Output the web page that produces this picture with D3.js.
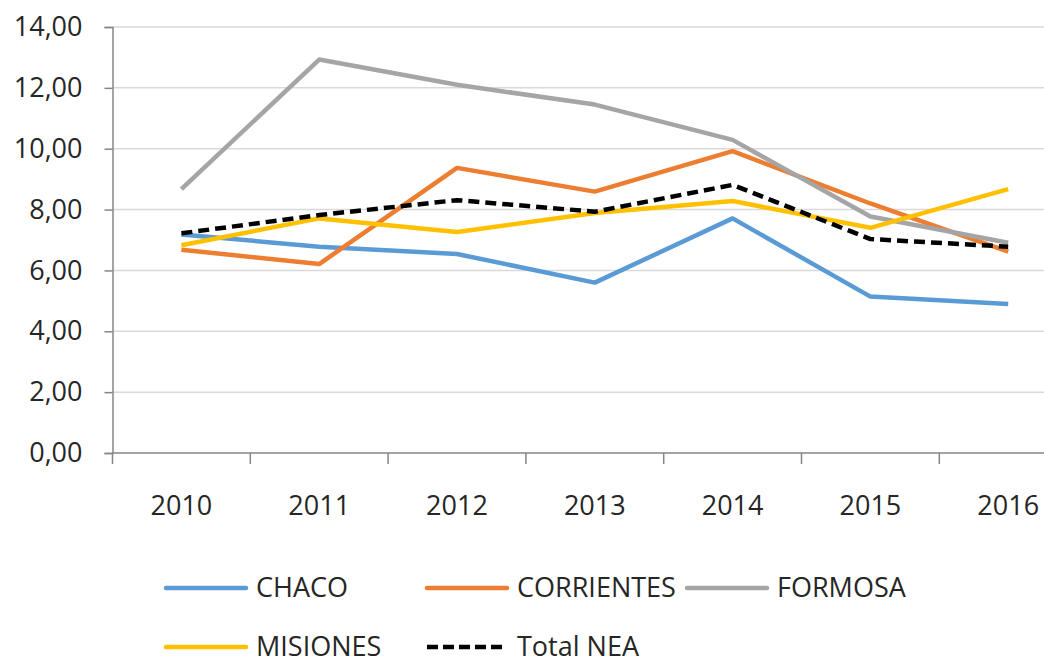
<!DOCTYPE html>
<html>
<head>
<meta charset="utf-8">
<script src="https://cdn.jsdelivr.net/npm/d3@7"></script>
<style>
  body { margin: 0; background: #fff; }
  text { font-family: "Open Sans", "Noto Sans", sans-serif; fill: #262626; }
</style>
</head>
<body>
<div id="chart"></div>
<script>
var years = ["2010", "2011", "2012", "2013", "2014", "2015", "2016"];
var chaco = [7.18, 6.78, 6.54, 5.60, 7.71, 5.14, 4.90];
var corrientes = [6.68, 6.21, 9.37, 8.59, 9.92, 8.20, 6.62];
var formosa = [8.67, 12.93, 12.10, 11.45, 10.29, 7.77, 6.91];
var misiones = [6.83, 7.71, 7.26, 7.89, 8.28, 7.40, 8.67];
var totalNea = [7.22, 7.82, 8.31, 7.93, 8.81, 7.03, 6.78];
var yTicks = [0, 2, 4, 6, 8, 10, 12, 14];

var series = [
  { name: "CHACO", values: chaco, color: "#5B9BD5", dash: null },
  { name: "CORRIENTES", values: corrientes, color: "#ED7D31", dash: null },
  { name: "FORMOSA", values: formosa, color: "#A5A5A5", dash: null },
  { name: "MISIONES", values: misiones, color: "#FFC000", dash: null },
  { name: "Total NEA", values: totalNea, color: "#000000", dash: "11,6" }
];

var svgWidth = 1044;
var svgHeight = 659;

var svg = d3.select("#chart")
  .append("svg")
  .attr("width", svgWidth)
  .attr("height", svgHeight);

// plot area runs a little past the right edge, as in the cropped original
var plotLeft = 112.5, plotTop = 27, plotBottom = 453;
var step = 137.8;

var x = d3.scaleBand()
  .domain(years)
  .range([plotLeft, plotLeft + step * years.length]);

var y = d3.scaleLinear()
  .domain([0, 14])
  .range([plotBottom, plotTop]);

// gridlines
svg.append("g")
  .selectAll("line")
  .data(yTicks.filter(d => d > 0))
  .enter()
  .append("line")
  .attr("x1", plotLeft)
  .attr("x2", svgWidth)
  .attr("y1", d => y(d))
  .attr("y2", d => y(d))
  .attr("stroke", "#d9d9d9")
  .attr("stroke-width", 1.5);

// y axis
var leftAxis = d3.axisLeft(y)
  .tickValues(yTicks)
  .tickSize(8)
  .tickPadding(22)
  .tickFormat(d => d.toFixed(2).replace(".", ","));

var yAxisGroup = svg.append("g")
  .attr("transform", `translate(${plotLeft}, 0)`)
  .call(leftAxis);
yAxisGroup.select(".domain").attr("stroke", "#868686").attr("stroke-width", 1.5);
yAxisGroup.selectAll(".tick line").attr("stroke", "#868686").attr("stroke-width", 1.5);
yAxisGroup.selectAll("text").style("font-size", "27px").attr("fill", "#262626");

// x axis: baseline, ticks at category boundaries, labels at centres
svg.append("line")
  .attr("x1", plotLeft)
  .attr("x2", svgWidth)
  .attr("y1", plotBottom)
  .attr("y2", plotBottom)
  .attr("stroke", "#868686")
  .attr("stroke-width", 1.5);

svg.append("g")
  .selectAll("line")
  .data(years)
  .enter()
  .append("line")
  .attr("x1", d => x(d))
  .attr("x2", d => x(d))
  .attr("y1", plotBottom)
  .attr("y2", plotBottom + 11)
  .attr("stroke", "#868686")
  .attr("stroke-width", 1.5);

svg.append("g")
  .selectAll("text")
  .data(years)
  .enter()
  .append("text")
  .attr("x", d => x(d) + x.bandwidth() / 2)
  .attr("y", 515)
  .attr("text-anchor", "middle")
  .style("font-size", "27px")
  .text(d => d);

// lines
var line = d3.line()
  .x((d, i) => x(years[i]) + x.bandwidth() / 2)
  .y(d => y(d));

svg.append("g")
  .selectAll("path")
  .data(series)
  .enter()
  .append("path")
  .attr("d", d => line(d.values))
  .attr("fill", "none")
  .attr("stroke", d => d.color)
  .attr("stroke-width", 4.5)
  .attr("stroke-linejoin", "round")
  .attr("stroke-dasharray", d => d.dash);

// legend
var legendX = [166, 427, 687];
var legendY = [588, 647];

var legend = svg.append("g")
  .selectAll("g")
  .data(series)
  .enter()
  .append("g")
  .attr("transform", (d, i) => `translate(${legendX[i % 3]}, ${legendY[Math.floor(i / 3)]})`);

legend.append("line")
  .attr("x1", 0)
  .attr("x2", 80)
  .attr("stroke", d => d.color)
  .attr("stroke-width", 4.5)
  .attr("stroke-linecap", d => d.dash ? "butt" : "round")
  .attr("stroke-dasharray", d => d.dash ? "11,5" : null);

legend.append("text")
  .attr("x", 90)
  .attr("dy", "0.35em")
  .style("font-size", "27px")
  .text(d => d.name);
</script>
</body>
</html>
